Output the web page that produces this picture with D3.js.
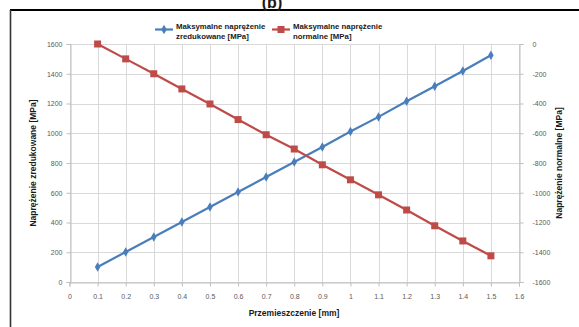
<!DOCTYPE html>
<html><head><meta charset="utf-8">
<script src="https://cdn.jsdelivr.net/npm/d3@7"></script>
<style>body{margin:0;background:#fff}svg{display:block;font-family:"Liberation Sans",Arial,sans-serif}</style>
</head><body>
<svg id="c" width="579" height="327"></svg>
<script>
const displacement = [0.1,0.2,0.3,0.4,0.5,0.6,0.7,0.8,0.9,1.0,1.1,1.2,1.3,1.4,1.5];
const reducedStress = [101,202,302,403,504,605,706,807,908,1012,1110,1215,1316,1418,1524];
const normalStress = [0,-100,-200,-302,-403,-508,-610,-706,-812,-913,-1014,-1116,-1222,-1324,-1424];
const xTicks = [0,0.1,0.2,0.3,0.4,0.5,0.6,0.7,0.8,0.9,1,1.1,1.2,1.3,1.4,1.5,1.6];
const leftTicks = [0,200,400,600,800,1000,1200,1400,1600];
const rightTicks = [0,-200,-400,-600,-800,-1000,-1200,-1400,-1600];
const seriesNames = [["Maksymalne naprężenie","zredukowane [MPa]"],["Maksymalne naprężenie","normalne [MPa]"]];
const xTitle = "Przemieszczenie [mm]";
const yLeftTitle = "Naprężenie zredukowane [MPa]";
const yRightTitle = "Naprężenie normalne [MPa]";

const svg = d3.select("#c");
const L=69.5, R=519, T=44, B=282;
const x = d3.scaleLinear().domain([0,1.6]).range([L,R]);
const yL = d3.scaleLinear().domain([0,1600]).range([B,T]);
const yR = d3.scaleLinear().domain([-1600,0]).range([B,T]);
const blue="#4a7ebb", red="#be4b48", grid="#d9d9d9", tick="#595959";

// frame
svg.append("line").attr("x1",10).attr("x2",579).attr("y1",10).attr("y2",10).attr("stroke","#000").attr("stroke-width",2.2);
svg.append("line").attr("x1",10.5).attr("x2",10.5).attr("y1",10).attr("y2",327).attr("stroke","#333").attr("stroke-width",1.6);
svg.append("text").attr("x",272).attr("y",8).attr("text-anchor","middle").attr("font-size",16).attr("font-weight","bold").attr("fill","#1a1a1a").text("(b)");

// grid
const g = svg.append("g");
g.selectAll(".hg").data(leftTicks).join("line").attr("x1",L).attr("x2",R)
 .attr("y1",d=>Math.round(yL(d))+0.5).attr("y2",d=>Math.round(yL(d))+0.5).attr("stroke",grid);
g.selectAll(".vg").data(xTicks).join("line").attr("y1",T).attr("y2",B)
 .attr("x1",d=>Math.round(x(d))+0.5).attr("x2",d=>Math.round(x(d))+0.5).attr("stroke",grid);

// axes
const ax = svg.append("g").attr("transform",`translate(0,${Math.round(B)+0.5})`)
 .call(d3.axisBottom(x).tickValues(xTicks).tickFormat(d=>String(d)).tickSize(4).tickPadding(8));
const ayl = svg.append("g").attr("transform",`translate(${Math.round(L)+0.5},0)`)
 .call(d3.axisLeft(yL).tickValues(leftTicks).tickFormat(d=>String(d)).tickSize(4).tickPadding(4));
const ayr = svg.append("g").attr("transform",`translate(${Math.round(R)+0.5},0)`)
 .call(d3.axisRight(yR).tickValues(rightTicks).tickFormat(d=>d<0?"-"+Math.abs(d):String(d)).tickSize(4).tickPadding(9));
[ax,ayl,ayr].forEach(a=>{
  a.select(".domain").attr("stroke","#bfbfbf");
  a.selectAll(".tick line").attr("stroke","#bfbfbf");
  a.selectAll("text").attr("font-size",7).attr("fill",tick).attr("font-family","Liberation Sans, Arial, sans-serif");
});

// series
const lineL = d3.line().x((d,i)=>x(displacement[i])).y(d=>yL(d));
const lineR = d3.line().x((d,i)=>x(displacement[i])).y(d=>yR(d));
svg.append("path").datum(reducedStress).attr("d",lineL).attr("fill","none").attr("stroke",blue).attr("stroke-width",2.2);
svg.selectAll(".bm").data(reducedStress).join("path")
 .attr("transform",(d,i)=>`translate(${x(displacement[i])},${yL(d)})`)
 .attr("d",d3.symbol(d3.symbolDiamond,26)()).attr("fill",blue);
svg.append("path").datum(normalStress).attr("d",lineR).attr("fill","none").attr("stroke",red).attr("stroke-width",2.2);
svg.selectAll(".rm").data(normalStress).join("rect")
 .attr("x",(d,i)=>x(displacement[i])-3.5).attr("y",d=>yR(d)-3.5).attr("width",7).attr("height",7).attr("fill",red);

// legend
const leg = [{c:blue,sym:"d",x:155},{c:red,sym:"s",x:272}];
leg.forEach((l,k)=>{
  svg.append("line").attr("x1",l.x).attr("x2",l.x+18).attr("y1",29.5).attr("y2",29.5).attr("stroke",l.c).attr("stroke-width",2.2);
  if(l.sym==="d") svg.append("path").attr("transform",`translate(${l.x+9},29.5)`).attr("d",d3.symbol(d3.symbolDiamond,26)()).attr("fill",l.c);
  else svg.append("rect").attr("x",l.x+5.5).attr("y",26).attr("width",7).attr("height",7).attr("fill",l.c);
  const t = svg.append("text").attr("x",l.x+21).attr("y",29).attr("font-size",7.8).attr("fill","#1a1a1a").attr("font-weight","bold");
  t.append("tspan").attr("x",l.x+21).attr("dy",0).text(seriesNames[k][0]);
  t.append("tspan").attr("x",l.x+21).attr("dy",10).text(seriesNames[k][1]);
});

// titles
svg.append("text").attr("x",294).attr("y",316).attr("text-anchor","middle").attr("font-size",8.5).attr("font-weight","bold").attr("fill","#1a1a1a").text(xTitle);
svg.append("text").attr("transform","translate(36,163) rotate(-90)").attr("text-anchor","middle").attr("font-size",8.5).attr("font-weight","bold").attr("fill","#1a1a1a").text(yLeftTitle);
svg.append("text").attr("transform","translate(562,163) rotate(-90)").attr("text-anchor","middle").attr("font-size",8.5).attr("font-weight","bold").attr("fill","#1a1a1a").text(yRightTitle);
</script>
</body></html>
